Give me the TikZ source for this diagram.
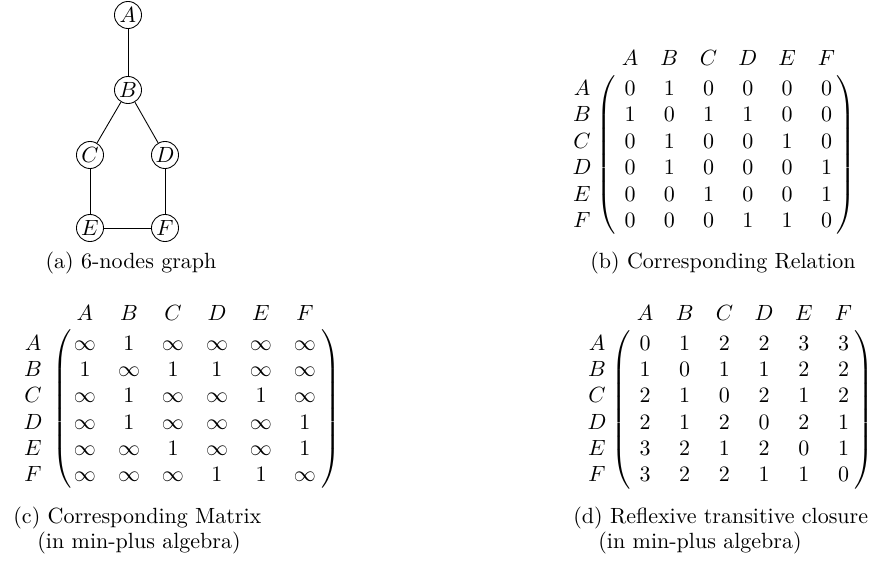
\documentclass[tikz,border=0pt]{standalone}
\begin{document}
\begin{tikzpicture}[x=0.4545pt,y=-0.4545pt,
  vtx/.style={circle,draw,inner sep=0pt,minimum size=12.3pt},
  edge/.style={draw,line width=0.4pt},
  ent/.style={inner sep=0pt,text height=6.8pt,text depth=0pt},
  captxt/.style={inner sep=0pt,text height=6.8pt,text depth=0pt},
  paren/.style={inner sep=0pt}]
\useasboundingbox (0,0) rectangle (877,561);
% graph
\node[vtx] (A) at (128,15) {$A$};
\node[vtx] (B) at (128,90) {$B$};
\node[vtx] (C) at (90,155) {$C$};
\node[vtx] (D) at (165,155) {$D$};
\node[vtx] (E) at (90,228) {$E$};
\node[vtx] (F) at (165,228) {$F$};
\draw[edge] (A) -- (B);
\draw[edge] (B) -- (C);
\draw[edge] (B) -- (D);
\draw[edge] (C) -- (E);
\draw[edge] (D) -- (F);
\draw[edge] (E) -- (F);
\node[captxt] (capa) at (131,261) {(a) 6-nodes graph};
% matrix b
\foreach \l [count=\j] in {A,B,C,D,E,F}{
  \node[ent] (bh\j) at ({630+39.3*(\j-1)},58) {$\l$};
  \node[ent] (br\j) at (582,{88+26.4*(\j-1)}) {$\l$};
}
\foreach \row [count=\i] in {{0,1,0,0,0,0},{1,0,1,1,0,0},{0,1,0,0,1,0},{0,1,0,0,0,1},{0,0,1,0,0,1},{0,0,0,1,1,0}}{
  \foreach \v [count=\j] in \row {
    \node[ent] (b\i\j) at ({630+39.3*(\j-1)},{88+26.4*(\i-1)}) {$\v$};
  }
}
\node[paren] (bl) at (607,155) {$\left(\vcenter{\hbox{\rule{0pt}{75pt}}}\right.$};
\node[paren] (brr) at (845,155) {$\left.\vcenter{\hbox{\rule{0pt}{75pt}}}\right)$};
\node[captxt] (capb) at (723,261) {(b) Corresponding Relation};
% matrix c
\foreach \l [count=\j] in {A,B,C,D,E,F}{
  \node[ent] (ch\j) at ({85+44*(\j-1)},313) {$\l$};
  \node[ent] (cr\j) at (33,{343+26.2*(\j-1)}) {$\l$};
}
\foreach \row [count=\i] in {{\infty,1,\infty,\infty,\infty,\infty},{1,\infty,1,1,\infty,\infty},{\infty,1,\infty,\infty,1,\infty},{\infty,1,\infty,\infty,\infty,1},{\infty,\infty,1,\infty,\infty,1},{\infty,\infty,\infty,1,1,\infty}}{
  \foreach \v [count=\j] in \row {
    \node[ent] (c\i\j) at ({85+44*(\j-1)},{343+26.2*(\i-1)}) {$\v$};
  }
}
\node[paren] (cl) at (63,409) {$\left(\vcenter{\hbox{\rule{0pt}{77pt}}}\right.$};
\node[paren] (crr) at (330,409) {$\left.\vcenter{\hbox{\rule{0pt}{77pt}}}\right)$};
\node[captxt,anchor=west] (capc1) at (13,516) {(c) Corresponding Matrix};
\node[captxt,anchor=west] (capc2) at (37,541) {(in min-plus algebra)};
% matrix d
\foreach \l [count=\j] in {A,B,C,D,E,F}{
  \node[ent] (dh\j) at ({645+39.7*(\j-1)},313) {$\l$};
  \node[ent] (dr\j) at (597,{343+26.2*(\j-1)}) {$\l$};
}
\foreach \row [count=\i] in {{0,1,2,2,3,3},{1,0,1,1,2,2},{2,1,0,2,1,2},{2,1,2,0,2,1},{3,2,1,2,0,1},{3,2,2,1,1,0}}{
  \foreach \v [count=\j] in \row {
    \node[ent] (d\i\j) at ({645+39.7*(\j-1)},{343+26.2*(\i-1)}) {$\v$};
  }
}
\node[paren] (dl) at (622,410) {$\left(\vcenter{\hbox{\rule{0pt}{77pt}}}\right.$};
\node[paren] (drr) at (863,410) {$\left.\vcenter{\hbox{\rule{0pt}{77pt}}}\right)$};
\node[captxt,anchor=west] (capd1) at (573,516) {(d) Reflexive transitive closure};
\node[captxt,anchor=west] (capd2) at (598,541) {(in min-plus algebra)};
\end{tikzpicture}
\end{document}
